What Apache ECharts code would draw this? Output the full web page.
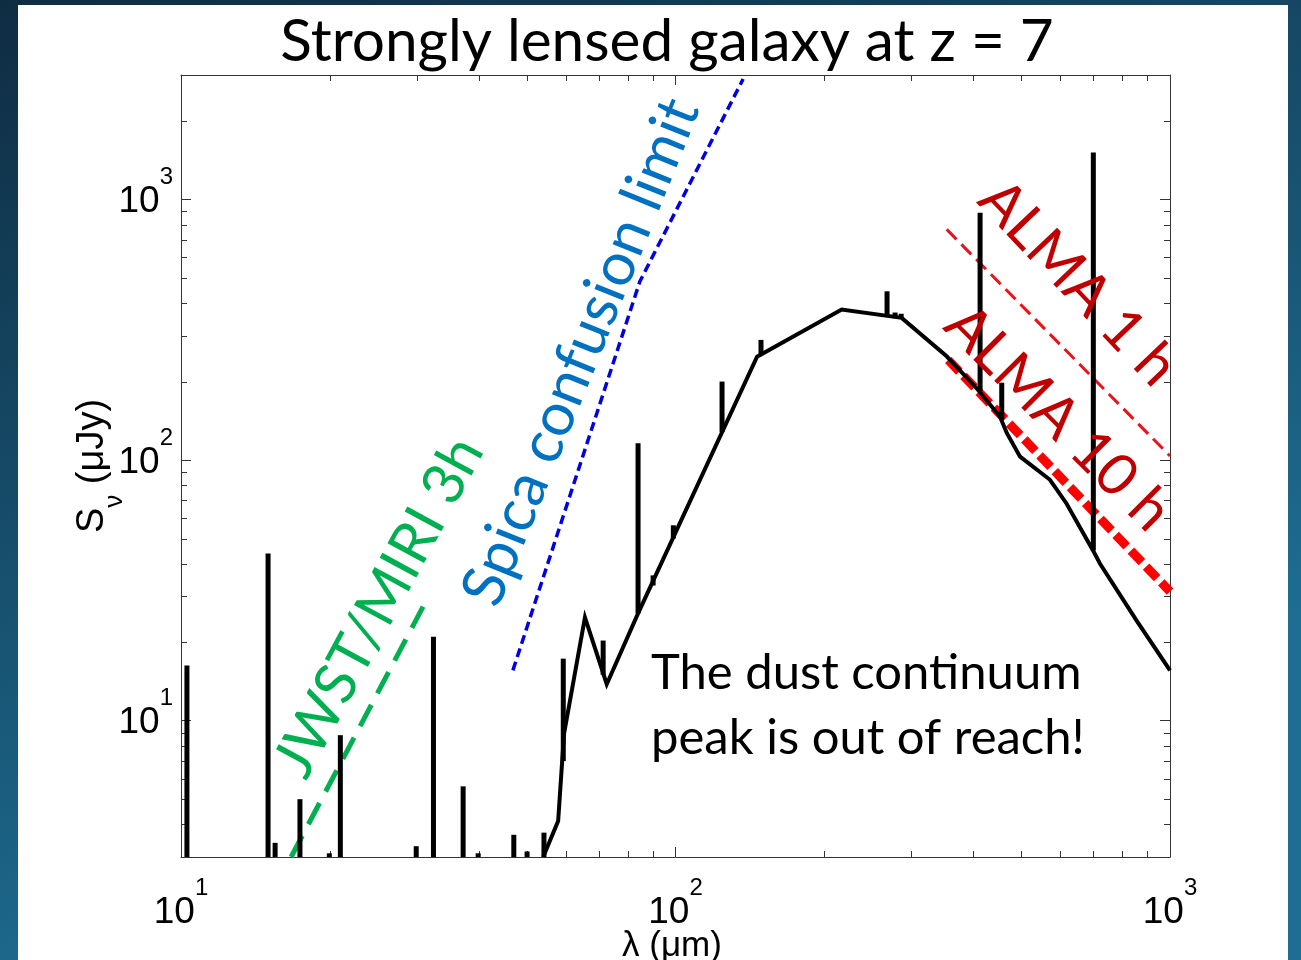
<!DOCTYPE html>
<html>
<head>
<meta charset="utf-8">
<script src="https://cdn.jsdelivr.net/npm/echarts@6/dist/echarts.min.js"></script>
<style>
html,body{margin:0;padding:0;background:#15405c;overflow:hidden;}
#c{width:1301px;height:960px;}
</style>
</head>
<body>
<div id="c"></div>
<script>
// ---------------- data ----------------
// Model SED continuum (wavelength in micron, flux in microJy)
const sedLambda = [54.0, 57.9, 59.5, 65.6, 72.6, 84.0, 146.2, 216.8, 286.7, 353.5, 406, 453, 467.6, 497.5, 571.9, 618, 698.7, 722, 856, 1000];
const sedFlux   = [3.0,  4.12, 8.9,  24.9, 13.8, 25.8, 249,   378,   351,   250,   189, 147, 127,   103,   84,    68,  45,    40,  24.2, 15.6];

// Emission lines (wavelength, base flux, peak flux)
const lineLambda = [10.28, 15.0, 15.5, 17.4, 19.95, 21.0, 29.9, 32.4, 37.2, 39.9, 47.1, 50.1, 54.2, 59.3, 71.4, 84.0, 90.1, 99.0, 124.2, 148.9, 267.8, 278, 286, 413, 456.8, 699.8];
const lineBase   = [3, 3, 3, 3, 3, 3, 3, 3, 3, 3, 3, 3, 3, 7, 15, 25.8, 33, 50, 128, 255, 358, 355, 350, 184, 142.5, 45];
const lineTop    = [16.3, 43.8, 3.4, 5.0, 3.1, 8.8, 3.3, 21.0, 5.6, 3.1, 3.65, 3.15, 3.72, 17.3, 20.3, 116, 36.1, 56.2, 200, 289, 444, 368, 364, 889, 198, 1512];

// Sensitivity limits
const jwstLambda  = [16.7, 31.6];
const jwstFlux    = [3.0, 29.8];
const spicaLambda = [46.9, 84.7, 137];
const spicaFlux   = [15.6, 484, 2894];
const alma1Lambda = [353.5, 1000];
const alma1Flux   = [767, 103.6];
const alma10Lambda = [356.1, 1000];
const alma10Flux   = [242, 31.3];

// Axes
const xMin = 10, xMax = 1000, yMin = 3, yMax = 3000;
const xMinorTicks = [20, 30, 40, 50, 60, 70, 80, 90, 200, 300, 400, 500, 600, 700, 800, 900];
const yMinorTicks = [4, 5, 6, 7, 8, 9, 20, 30, 40, 50, 60, 70, 80, 90, 200, 300, 400, 500, 600, 700, 800, 900, 2000];

const titleText = 'Strongly lensed galaxy at z = 7';
const xName = 'λ (μm)';
const noteText = 'The dust continuum\npeak is out of reach!';

// ---------------- chart ----------------
const chart = echarts.init(document.getElementById('c'), null, {renderer: 'canvas', width: 1301, height: 960});

const pairs = (a, b) => a.map((v, i) => [v, b[i]]);
const AX = '#333333';

function supLabel(v) {
  const e = Math.log10(v);
  if (Math.abs(e - Math.round(e)) > 1e-6) return '';
  return '{b|10}{s|' + Math.round(e) + '}';
}
const labelRich = {
  b: {fontFamily: 'Liberation Sans', fontSize: 37, color: '#000', verticalAlign: 'bottom'},
  s: {fontFamily: 'Liberation Sans', fontSize: 24, color: '#000', verticalAlign: 'top', padding: [0, 0, 31, 0]}
};

function baseAxis(extra) {
  return Object.assign({
    type: 'log', logBase: 10,
    axisLine: {show: true, onZero: false, lineStyle: {color: AX, width: 1}},
    axisTick: {show: true, inside: true, length: 10, lineStyle: {color: AX, width: 1}},
    splitLine: {show: false},
    minorTick: {show: false},
    minorSplitLine: {show: false}
  }, extra);
}

const option = {
  animation: false,
  backgroundColor: 'transparent',
  grid: {left: 181, right: 131, top: 75, bottom: 103, containLabel: false},
  xAxis: [
    baseAxis({min: xMin, max: xMax, position: 'bottom',
      axisLabel: {show: true, margin: 19, formatter: supLabel, rich: labelRich}}),
    baseAxis({min: xMin, max: xMax, position: 'top', axisLabel: {show: false}})
  ],
  yAxis: [
    baseAxis({min: yMin, max: yMax, position: 'left',
      axisLabel: {show: true, margin: 8, formatter: supLabel, rich: labelRich, showMinLabel: false, showMaxLabel: false, padding: [0, 0, 13, 0]}}),
    baseAxis({min: yMin, max: yMax, position: 'right', axisLabel: {show: false}})
  ],
  series: [
    // minor ticks on x (bottom and top)
    {
      type: 'custom', xAxisIndex: 0, yAxisIndex: 0, silent: true, z: 1,
      data: xMinorTicks.map(v => [v, 10]),
      renderItem: function (params, api) {
        const cs = params.coordSys;
        const px = Math.round(api.coord([api.value(0), 10])[0]) + 0.5;
        return {type: 'group', children: [
          {type: 'line', shape: {x1: px, y1: cs.y + cs.height, x2: px, y2: cs.y + cs.height - 6}, style: {stroke: AX, lineWidth: 1}},
          {type: 'line', shape: {x1: px, y1: cs.y, x2: px, y2: cs.y + 6}, style: {stroke: AX, lineWidth: 1}}
        ]};
      }
    },
    // minor ticks on y (left and right)
    {
      type: 'custom', xAxisIndex: 0, yAxisIndex: 0, silent: true, z: 1,
      data: yMinorTicks.map(v => [100, v]),
      renderItem: function (params, api) {
        const cs = params.coordSys;
        const py = Math.round(api.coord([100, api.value(1)])[1]) + 0.5;
        return {type: 'group', children: [
          {type: 'line', shape: {x1: cs.x, y1: py, x2: cs.x + 6, y2: py}, style: {stroke: AX, lineWidth: 1}},
          {type: 'line', shape: {x1: cs.x + cs.width, y1: py, x2: cs.x + cs.width - 6, y2: py}, style: {stroke: AX, lineWidth: 1}}
        ]};
      }
    },
    // JWST/MIRI 3h limit
    {
      type: 'line', data: pairs(jwstLambda, jwstFlux), showSymbol: false, symbol: 'none', clip: true, z: 3,
      lineStyle: {color: '#00b050', width: 5, type: [24, 13]}
    },
    // Spica confusion limit
    {
      type: 'line', data: pairs(spicaLambda, spicaFlux), showSymbol: false, symbol: 'none', clip: true, z: 3,
      lineStyle: {color: '#0000e0', width: 3.5, type: [9, 5]}
    },
    // ALMA 1 h
    {
      type: 'line', data: pairs(alma1Lambda, alma1Flux), showSymbol: false, symbol: 'none', clip: true, z: 3,
      lineStyle: {color: '#e8141c', width: 3, type: [14, 7]}
    },
    // ALMA 10 h
    {
      type: 'line', data: pairs(alma10Lambda, alma10Flux), showSymbol: false, symbol: 'none', clip: true, z: 3,
      lineStyle: {color: '#ff0000', width: 9, type: [16, 6]}
    },
    // emission lines
    {
      type: 'custom', silent: true, z: 4,
      data: lineLambda.map((l, i) => [l, lineBase[i], lineTop[i]]),
      encode: {x: 0, y: [1, 2]},
      renderItem: function (params, api) {
        const p0 = api.coord([api.value(0), api.value(1)]);
        const p1 = api.coord([api.value(0), api.value(2)]);
        return {type: 'line', shape: {x1: p0[0], y1: p0[1], x2: p1[0], y2: p1[1]}, style: {stroke: '#000', lineWidth: 5}};
      }
    },
    // SED continuum
    {
      type: 'line', data: pairs(sedLambda, sedFlux), showSymbol: false, symbol: 'none', clip: true, z: 5,
      lineStyle: {color: '#000', width: 4, join: 'miter'}
    }
  ],
  graphic: [
    {type: 'rect', z: -20, silent: true, shape: {x: 0, y: 0, width: 1301, height: 960},
      style: {fill: {type: 'linear', x: 0, y: 0, x2: 0.25, y2: 1, colorStops: [
        {offset: 0, color: '#0f2c42'}, {offset: 1, color: '#1e6e93'}]}}},
    {type: 'rect', z: -19, silent: true, shape: {x: 18, y: 5, width: 1270, height: 955}, style: {fill: '#ffffff'}},
    {type: 'text', z: 50, x: 667, y: 42, style: {text: titleText, fontFamily: 'Lato', fontSize: 58.5, fill: '#000', align: 'center', verticalAlign: 'middle'}},
    {type: 'text', z: 50, x: 672, y: 946, style: {text: xName, fontFamily: 'Liberation Sans', fontSize: 35, fill: '#000', align: 'center', verticalAlign: 'middle'}},
    {type: 'text', z: 50, x: 101, y: 466, rotation: Math.PI / 2,
      style: {text: '{a|S}{n|ν}{a| (μJy)}', align: 'center', verticalAlign: 'middle',
        rich: {a: {fontFamily: 'Liberation Sans', fontSize: 38, fill: '#000', color: '#000', verticalAlign: 'top'},
               n: {fontFamily: 'Liberation Sans', fontSize: 26, fill: '#000', color: '#000', verticalAlign: 'top', padding: [28, 0, 0, 0]}}}},
    {type: 'text', z: 50, x: 379, y: 607, rotation: 61.6 * Math.PI / 180,
      style: {text: 'JWST/MIRI 3h', fontFamily: 'Lato', fontSize: 58, fill: '#00b050', align: 'center', verticalAlign: 'middle'}},
    {type: 'text', z: 50, x: 581, y: 352, rotation: 68 * Math.PI / 180,
      style: {text: 'Spica confusion limit', fontFamily: 'Lato', fontSize: 60, fill: '#0070c0', align: 'center', verticalAlign: 'middle'}},
    {type: 'text', z: 50, x: 1078, y: 283, rotation: -46.5 * Math.PI / 180,
      style: {text: 'ALMA 1 h', fontFamily: 'Lato', fontSize: 58, fill: '#c00000', align: 'center', verticalAlign: 'middle'}},
    {type: 'text', z: 50, x: 1058, y: 418, rotation: -45 * Math.PI / 180,
      style: {text: 'ALMA 10 h', fontFamily: 'Lato', fontSize: 58, fill: '#c00000', align: 'center', verticalAlign: 'middle'}},
    {type: 'text', z: 50, x: 651, y: 641, style: {text: noteText, fontFamily: 'Lato', fontSize: 49, lineHeight: 65, fill: '#000', align: 'left', verticalAlign: 'top'}}
  ]
};
chart.setOption(option);
</script>
</body>
</html>
